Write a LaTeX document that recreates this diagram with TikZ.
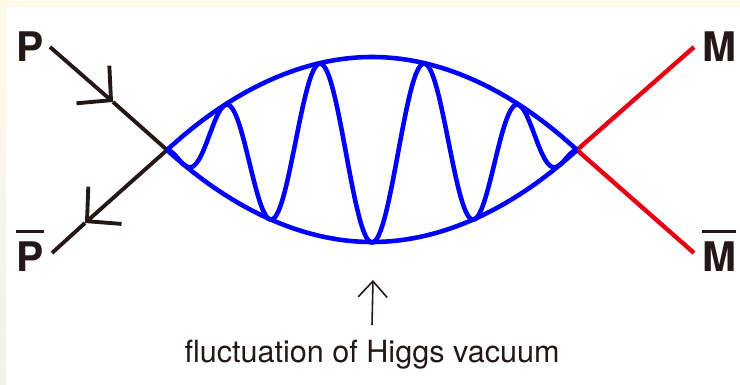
\documentclass[tikz,border=0pt]{standalone}
\usepackage{fontspec}
\setmainfont{TeX Gyre Heros}
\usepackage{tikz}
\usetikzlibrary{arrows.meta}
\usepackage{xcolor}
\definecolor{inkblack}{RGB}{35,24,21}
\definecolor{vacblue}{RGB}{0,0,255}
\definecolor{mesonred}{RGB}{230,0,18}
\definecolor{pageyellow}{RGB}{252,250,230}
\definecolor{pagegray}{RGB}{241,241,238}
\newcommand{\barlabel}[1]{\vbox{\hrule height 0.85pt\kern 2.3pt\hbox{#1}}}

\begin{document}
\begin{tikzpicture}[>={Straight Barb[length=2.4mm,width=5mm]},font=\fontsize{8.7}{10}\selectfont,
  particle/.style={draw=inkblack,line width=1.1pt},
  meson/.style={draw=mesonred,line width=1.25pt},
  vacuum/.style={draw=vacblue,line width=1.3pt},
  lbl/.style={font=\fontsize{11.6}{13}\selectfont\bfseries,text=inkblack,anchor=base,inner sep=0pt}]
\fill[pageyellow] (0,0) rectangle (7.40,3.84);
\shade[top color=pageyellow,bottom color=pagegray] (0,0) rectangle (0.06,3.77);
\fill[white] (0.06,0) rectangle (7.40,3.77);
\useasboundingbox (0,0) rectangle (7.40,3.84);
\coordinate (L) at (1.67,2.34);
\coordinate (R) at (5.77,2.34);
\coordinate (pin) at (0.50,3.37);
\coordinate (parr) at (1.13,2.82);
\coordinate (pbarr) at (0.85,1.61);
\coordinate (pout) at (0.52,1.31);
\coordinate (min) at (6.94,3.37);
\coordinate (mout) at (6.94,1.31);
\node[lbl] (p) at (0.30,3.22) {P};
\node[lbl] (pbar) at (0.30,1.13) {\barlabel{P}};
\node[lbl] (m) at (7.19,3.22) {M};
\node[lbl] (mbar) at (7.19,1.13) {\barlabel{M}};
\draw[particle,->] (pin) -- (parr);
\draw[particle] (parr) -- (L);
\draw[particle,->] (L) -- (pbarr);
\draw[particle] (pbarr) -- (pout);
\draw[meson] (R) -- (min);
\draw[meson] (R) -- (mout);
\draw[vacuum] (L) parabola bend (3.72,3.27) (R);
\draw[vacuum] (L) parabola bend (3.72,1.42) (R);
\draw[vacuum] plot[domain=-2.05:2.05,samples=301] ({3.72+\x},{2.34-0.925*(1-\x*\x/4.2025)*cos(337.8*\x+12.8*\x*\x*\x)});
\node[inner sep=0pt,anchor=base,text=inkblack] (cap) at (3.72,0.22) {fluctuation of Higgs vacuum};
\coordinate (vac) at (3.73,1.04);
\draw[inkblack,line width=0.45pt,-{Straight Barb[length=1.6mm,width=2.9mm]}] ([yshift=4pt]cap.north) -- (vac);
\end{tikzpicture}
\end{document}
